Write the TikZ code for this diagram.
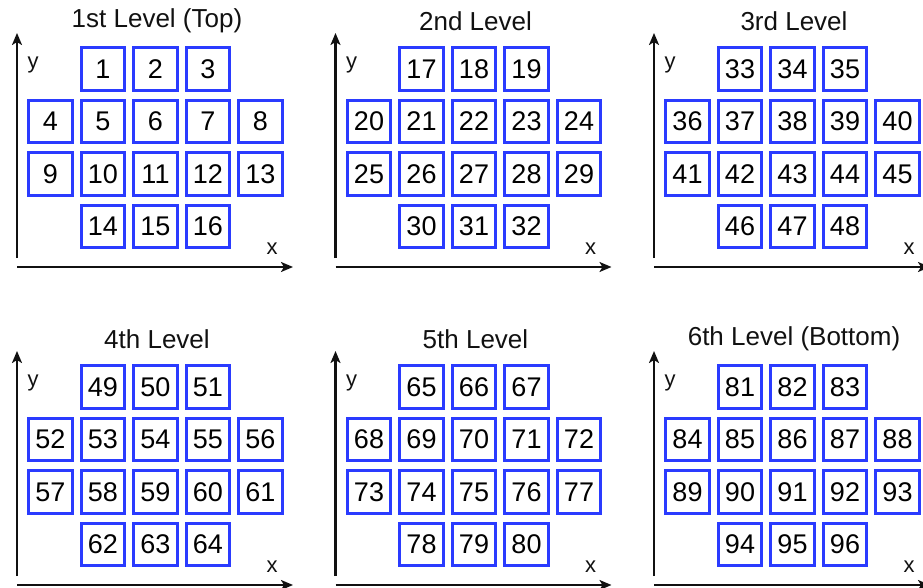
\documentclass[tikz,border=0pt]{standalone}
\usepackage{fontspec}
\setmainfont{Liberation Sans}
\usepackage{tikz}
\usepackage{xcolor}
\usetikzlibrary{arrows.meta}
\definecolor{cellblue}{HTML}{2A3BFF}
\definecolor{ink}{HTML}{111111}
\tikzset{
  cell/.style={draw=cellblue, fill=white, line width=2.6pt, minimum width=43.5pt,
               minimum height=42.5pt, inner sep=0pt, font=\fontsize{27}{27}\selectfont},
  axis/.style={-{Stealth[length=12pt,width=10pt,inset=3pt]}, line width=2.2pt, draw=ink},
  level/.style={font=\fontsize{26}{26}\selectfont, text=ink},
  axlabel/.style={font=\fontsize{22}{22}\selectfont, text=ink}
}

\begin{document}
\begin{tikzpicture}[x=1pt,y=-1pt]
        \useasboundingbox (0,0) rectangle (923,588);
        \foreach \p/\ox/\oy/\ttl in {0/0/0/{1st Level (Top)},1/318.5/0/{2nd Level},2/637/0/{3rd Level},
                                     3/0/318/{4th Level},4/318.5/318/{5th Level},5/637/318/{6th Level (Bottom)}} {
          \begin{scope}[shift={(\ox,\oy)}]
            \node[level] (t\p) at (157,21) {\ttl};
            \node[axlabel] (ly\p) at (33,65) {y};
            \node[axlabel] (lx\p) at (272,249) {x};
            \coordinate (yb\p) at (17,258);
            \coordinate (yt\p) at (17,33);
            \coordinate (xa\p) at (17,267);
            \coordinate (xb\p) at (293,267);
            \draw[axis] (yb\p) -- (yt\p);
            \draw[axis] (xa\p) -- (xb\p);
            \foreach \c/\r/\k in {2/1/1,3/1/2,4/1/3,
                                  1/2/4,2/2/5,3/2/6,4/2/7,5/2/8,
                                  1/3/9,2/3/10,3/3/11,4/3/12,5/3/13,
                                  2/4/14,3/4/15,4/4/16} {
              \pgfmathtruncatemacro\n{16*\p+\k}
              \node[cell] (c\n) at ({50.5+52.5*(\c-1)},{69+52.5*(\r-1)}) {\n};
            }
          \end{scope}
        }
      \end{tikzpicture}
\end{document}
